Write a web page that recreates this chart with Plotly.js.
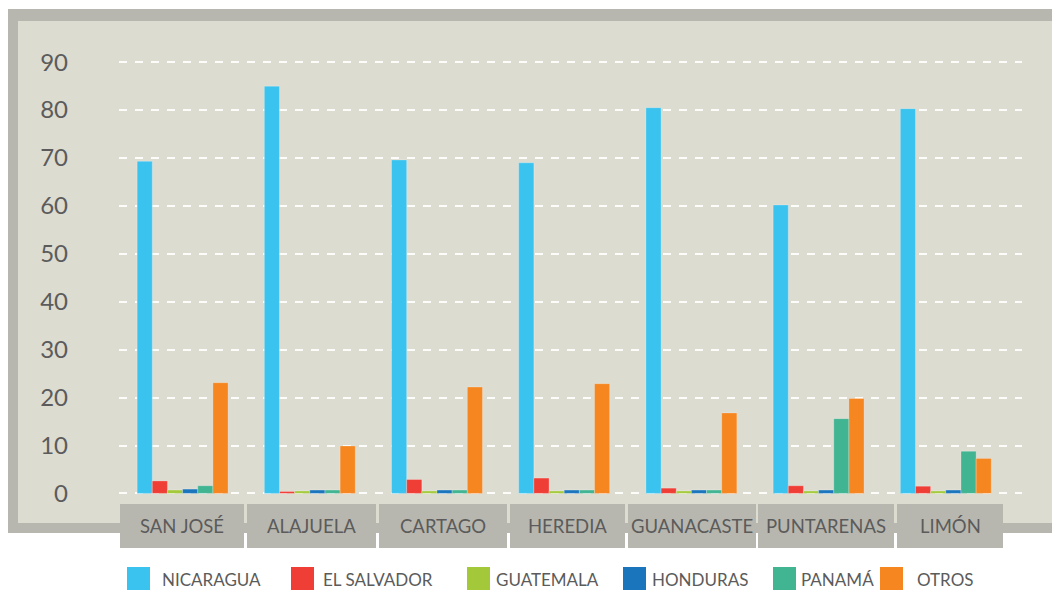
<!DOCTYPE html>
<html>
<head>
<meta charset="utf-8">
<script src="https://cdn.plot.ly/plotly-3.0.1.min.js"></script>
<style>
  html, body { margin: 0; padding: 0; background: #fff; }
  #chart { width: 1052px; height: 590px; }
</style>
</head>
<body>
<div id="chart"></div>
<script>
(function () {
  // ====== Data ======
  var provincias = ['SAN JOSÉ', 'ALAJUELA', 'CARTAGO', 'HEREDIA', 'GUANACASTE', 'PUNTARENAS', 'LIMÓN'];
  var nicaragua  = [69.3, 85.0, 69.6, 69.0, 80.5, 60.2, 80.3];
  var elSalvador = [2.6, 0.4, 2.9, 3.2, 1.1, 1.6, 1.5];
  var guatemala  = [0.7, 0.5, 0.5, 0.5, 0.5, 0.5, 0.5];
  var honduras   = [0.9, 0.7, 0.7, 0.7, 0.7, 0.7, 0.7];
  var panama     = [1.6, 0.7, 0.7, 0.7, 0.7, 15.6, 8.8];
  var otros      = [23.1, 9.9, 22.2, 22.9, 16.8, 19.8, 7.3];
  var seriesNames = ['NICARAGUA', 'EL SALVADOR', 'GUATEMALA', 'HONDURAS', 'PANAMÁ', 'OTROS'];
  var yTicks = [0, 10, 20, 30, 40, 50, 60, 70, 80, 90];

  // ====== Style ======
  var colors = ['#3bc3ef', '#ef3e36', '#a3c93a', '#1a75bc', '#41b491', '#f58620'];
  var seriesValues = [nicaragua, elSalvador, guatemala, honduras, panama, otros];
  var FONT = 'Lato, "Open Sans", sans-serif';
  var TXT = '#5b5b5b';
  var GRAY = '#b8b7af';
  var BEIGE = '#dddcd1';

  // plot area in pixels (one category slot is ~127px wide)
  var W = 1052, H = 590;
  var L = 119, R = 1022, T = 43, B = 503;
  var SLOT = 127.2;
  function px(x) { return (x - L) / (R - L); }
  function py(y) { return (B - y) / (B - T); }

  var traces = seriesNames.map(function (name, i) {
    return {
      type: 'bar', name: name, x: provincias, y: seriesValues[i],
      marker: { color: colors[i], line: { color: 'rgba(255,255,255,0.25)', width: 1 } },
      hovertemplate: '%{x}<br>' + name + ': %{y}<extra></extra>'
    };
  });

  var shapes = [];
  var annotations = [];

  // frame
  shapes.push({ type: 'rect', xref: 'paper', yref: 'paper', layer: 'below',
    x0: px(8), x1: px(1060), y0: py(533), y1: py(9), fillcolor: GRAY, line: { width: 0 } });
  shapes.push({ type: 'rect', xref: 'paper', yref: 'paper', layer: 'below',
    x0: px(18), x1: px(1060), y0: py(523), y1: py(21), fillcolor: BEIGE, line: { width: 0 } });

  // category boxes
  var boxEdges = [[120, 244], [247, 376], [379, 507], [510, 625], [628, 756], [758, 894], [897, 1003]];
  boxEdges.forEach(function (e, i) {
    shapes.push({ type: 'rect', xref: 'paper', yref: 'paper', layer: 'above',
      x0: px(e[0]), x1: px(e[1]), y0: py(548), y1: py(504), fillcolor: GRAY, line: { width: 0 } });
    annotations.push({ xref: 'paper', yref: 'paper', x: px((e[0] + e[1]) / 2), y: py(526),
      text: provincias[i], showarrow: false, xanchor: 'center', yanchor: 'middle',
      font: { family: FONT, size: 18.5, color: TXT } });
  });

  // legend
  var legSq = [127, 291, 467, 623, 773, 880];
  var legTx = [160, 321, 494, 650, 799, 915];
  seriesNames.forEach(function (name, i) {
    shapes.push({ type: 'rect', xref: 'paper', yref: 'paper',
      x0: px(legSq[i]), x1: px(legSq[i] + 23), y0: py(590), y1: py(567),
      fillcolor: colors[i], line: { width: 0 } });
    annotations.push({ xref: 'paper', yref: 'paper', x: px(legTx[i]), y: py(579),
      text: name, showarrow: false, xanchor: 'left', yanchor: 'middle',
      font: { family: FONT, size: 17, color: TXT } });
  });

  var layout = {
    width: W, height: H,
    margin: { l: L, r: W - R, t: T, b: H - B, pad: 0 },
    paper_bgcolor: '#ffffff',
    plot_bgcolor: 'rgba(0,0,0,0)',
    font: { family: FONT, color: TXT },
    showlegend: false,
    barmode: 'group', bargap: 0.285, bargroupgap: 0,
    xaxis: { range: [-0.5, -0.5 + (R - L) / SLOT], showticklabels: false, showgrid: false,
      zeroline: false, showline: false, ticks: '', fixedrange: true },
    yaxis: {
      range: [-2, 94], tickvals: yTicks, ticktext: yTicks.map(String),
      showgrid: true, gridcolor: 'rgba(255,255,255,0.9)', gridwidth: 2, griddash: '8px,8px',
      zeroline: false, showline: false, ticks: '', ticklabelstandoff: 50,
      tickfont: { family: FONT, size: 24, color: TXT }, fixedrange: true
    },
    shapes: shapes,
    annotations: annotations
  };

  Plotly.newPlot('chart', traces, layout, { displayModeBar: false, staticPlot: true });
})();
</script>
</body>
</html>
